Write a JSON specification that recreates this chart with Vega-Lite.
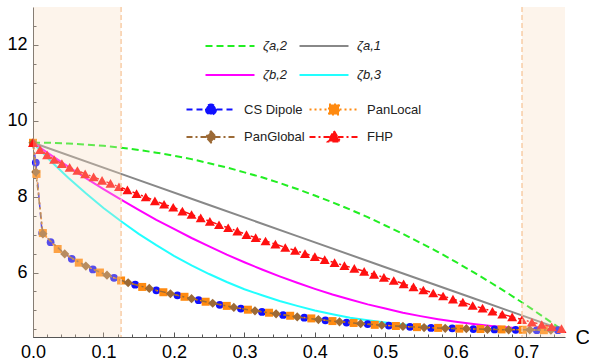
{
  "$schema": "https://vega.github.io/schema/vega-lite/v6.json",
  "width": 532,
  "height": 330,
  "autosize": {"type": "none"},
  "padding": {"left": 33, "top": 7, "right": 24, "bottom": 24},
  "background": "white",
  "config": {
    "view": {"stroke": null},
    "font": "Liberation Sans",
    "axis": {"grid": false, "domainColor": "#555555", "tickColor": "#555555", "labelColor": "#000000", "labelFont": "Liberation Sans", "labelFontSize": 18, "titleFont": "Liberation Sans"}
  },
  "datasets": {
    "curves": [
      {"series": "ζa,2", "C": 0, "v": 9.42}, {"series": "ζa,2", "C": 0.025, "v": 9.42}, {"series": "ζa,2", "C": 0.05, "v": 9.40}, {"series": "ζa,2", "C": 0.075, "v": 9.37}, {"series": "ζa,2", "C": 0.1, "v": 9.34}, {"series": "ζa,2", "C": 0.125, "v": 9.29}, {"series": "ζa,2", "C": 0.15, "v": 9.23}, {"series": "ζa,2", "C": 0.175, "v": 9.16}, {"series": "ζa,2", "C": 0.2, "v": 9.08}, {"series": "ζa,2", "C": 0.225, "v": 8.99}, {"series": "ζa,2", "C": 0.25, "v": 8.88}, {"series": "ζa,2", "C": 0.275, "v": 8.77}, {"series": "ζa,2", "C": 0.3, "v": 8.64}, {"series": "ζa,2", "C": 0.325, "v": 8.51}, {"series": "ζa,2", "C": 0.35, "v": 8.36}, {"series": "ζa,2", "C": 0.375, "v": 8.20}, {"series": "ζa,2", "C": 0.4, "v": 8.03}, {"series": "ζa,2", "C": 0.425, "v": 7.85}, {"series": "ζa,2", "C": 0.45, "v": 7.66}, {"series": "ζa,2", "C": 0.475, "v": 7.46}, {"series": "ζa,2", "C": 0.5, "v": 7.24}, {"series": "ζa,2", "C": 0.525, "v": 7.02}, {"series": "ζa,2", "C": 0.55, "v": 6.78}, {"series": "ζa,2", "C": 0.575, "v": 6.54}, {"series": "ζa,2", "C": 0.6, "v": 6.28}, {"series": "ζa,2", "C": 0.625, "v": 6.01}, {"series": "ζa,2", "C": 0.65, "v": 5.73}, {"series": "ζa,2", "C": 0.675, "v": 5.44}, {"series": "ζa,2", "C": 0.7, "v": 5.14}, {"series": "ζa,2", "C": 0.725, "v": 4.82}, {"series": "ζa,2", "C": 0.75, "v": 4.50},
      {"series": "ζa,1", "C": 0, "v": 9.42}, {"series": "ζa,1", "C": 0.125, "v": 8.60}, {"series": "ζa,1", "C": 0.25, "v": 7.78}, {"series": "ζa,1", "C": 0.375, "v": 6.96}, {"series": "ζa,1", "C": 0.5, "v": 6.14}, {"series": "ζa,1", "C": 0.625, "v": 5.32}, {"series": "ζa,1", "C": 0.75, "v": 4.50},
      {"series": "ζb,2", "C": 0, "v": 9.42}, {"series": "ζb,2", "C": 0.025, "v": 9.10}, {"series": "ζb,2", "C": 0.05, "v": 8.79}, {"series": "ζb,2", "C": 0.075, "v": 8.49}, {"series": "ζb,2", "C": 0.1, "v": 8.20}, {"series": "ζb,2", "C": 0.125, "v": 7.92}, {"series": "ζb,2", "C": 0.15, "v": 7.65}, {"series": "ζb,2", "C": 0.175, "v": 7.39}, {"series": "ζb,2", "C": 0.2, "v": 7.15}, {"series": "ζb,2", "C": 0.225, "v": 6.91}, {"series": "ζb,2", "C": 0.25, "v": 6.69}, {"series": "ζb,2", "C": 0.275, "v": 6.47}, {"series": "ζb,2", "C": 0.3, "v": 6.27}, {"series": "ζb,2", "C": 0.325, "v": 6.08}, {"series": "ζb,2", "C": 0.35, "v": 5.90}, {"series": "ζb,2", "C": 0.375, "v": 5.73}, {"series": "ζb,2", "C": 0.4, "v": 5.57}, {"series": "ζb,2", "C": 0.425, "v": 5.42}, {"series": "ζb,2", "C": 0.45, "v": 5.29}, {"series": "ζb,2", "C": 0.475, "v": 5.16}, {"series": "ζb,2", "C": 0.5, "v": 5.05}, {"series": "ζb,2", "C": 0.525, "v": 4.94}, {"series": "ζb,2", "C": 0.55, "v": 4.85}, {"series": "ζb,2", "C": 0.575, "v": 4.77}, {"series": "ζb,2", "C": 0.6, "v": 4.70}, {"series": "ζb,2", "C": 0.625, "v": 4.64}, {"series": "ζb,2", "C": 0.65, "v": 4.59}, {"series": "ζb,2", "C": 0.675, "v": 4.55}, {"series": "ζb,2", "C": 0.7, "v": 4.52}, {"series": "ζb,2", "C": 0.725, "v": 4.51}, {"series": "ζb,2", "C": 0.75, "v": 4.50},
      {"series": "ζb,3", "C": 0, "v": 9.42}, {"series": "ζb,3", "C": 0.025, "v": 8.94}, {"series": "ζb,3", "C": 0.05, "v": 8.50}, {"series": "ζb,3", "C": 0.075, "v": 8.09}, {"series": "ζb,3", "C": 0.1, "v": 7.70}, {"series": "ζb,3", "C": 0.125, "v": 7.35}, {"series": "ζb,3", "C": 0.15, "v": 7.02}, {"series": "ζb,3", "C": 0.175, "v": 6.72}, {"series": "ζb,3", "C": 0.2, "v": 6.44}, {"series": "ζb,3", "C": 0.225, "v": 6.19}, {"series": "ζb,3", "C": 0.25, "v": 5.96}, {"series": "ζb,3", "C": 0.275, "v": 5.75}, {"series": "ζb,3", "C": 0.3, "v": 5.56}, {"series": "ζb,3", "C": 0.325, "v": 5.40}, {"series": "ζb,3", "C": 0.35, "v": 5.25}, {"series": "ζb,3", "C": 0.375, "v": 5.12}, {"series": "ζb,3", "C": 0.4, "v": 5.00}, {"series": "ζb,3", "C": 0.425, "v": 4.90}, {"series": "ζb,3", "C": 0.45, "v": 4.81}, {"series": "ζb,3", "C": 0.475, "v": 4.74}, {"series": "ζb,3", "C": 0.5, "v": 4.68}, {"series": "ζb,3", "C": 0.525, "v": 4.63}, {"series": "ζb,3", "C": 0.55, "v": 4.59}, {"series": "ζb,3", "C": 0.575, "v": 4.56}, {"series": "ζb,3", "C": 0.6, "v": 4.54}, {"series": "ζb,3", "C": 0.625, "v": 4.52}, {"series": "ζb,3", "C": 0.65, "v": 4.51}, {"series": "ζb,3", "C": 0.675, "v": 4.50}, {"series": "ζb,3", "C": 0.7, "v": 4.50}, {"series": "ζb,3", "C": 0.725, "v": 4.50}, {"series": "ζb,3", "C": 0.75, "v": 4.50}
    ],
    "methods": [
      {"series": "CS Dipole", "C": 0, "v": 9.42}, {"series": "CS Dipole", "C": 0.004, "v": 8.9}, {"series": "CS Dipole", "C": 0.013, "v": 7.04}, {"series": "CS Dipole", "C": 0.025, "v": 6.80}, {"series": "CS Dipole", "C": 0.055, "v": 6.36}, {"series": "CS Dipole", "C": 0.085, "v": 6.08}, {"series": "CS Dipole", "C": 0.115, "v": 5.86}, {"series": "CS Dipole", "C": 0.145, "v": 5.68}, {"series": "CS Dipole", "C": 0.175, "v": 5.53}, {"series": "CS Dipole", "C": 0.205, "v": 5.40}, {"series": "CS Dipole", "C": 0.235, "v": 5.27}, {"series": "CS Dipole", "C": 0.265, "v": 5.15}, {"series": "CS Dipole", "C": 0.295, "v": 5.05}, {"series": "CS Dipole", "C": 0.325, "v": 4.96}, {"series": "CS Dipole", "C": 0.355, "v": 4.88}, {"series": "CS Dipole", "C": 0.385, "v": 4.81}, {"series": "CS Dipole", "C": 0.415, "v": 4.74}, {"series": "CS Dipole", "C": 0.445, "v": 4.68}, {"series": "CS Dipole", "C": 0.475, "v": 4.64}, {"series": "CS Dipole", "C": 0.505, "v": 4.60}, {"series": "CS Dipole", "C": 0.535, "v": 4.57}, {"series": "CS Dipole", "C": 0.565, "v": 4.54}, {"series": "CS Dipole", "C": 0.595, "v": 4.53}, {"series": "CS Dipole", "C": 0.625, "v": 4.51}, {"series": "CS Dipole", "C": 0.655, "v": 4.50}, {"series": "CS Dipole", "C": 0.685, "v": 4.49}, {"series": "CS Dipole", "C": 0.715, "v": 4.48}, {"series": "CS Dipole", "C": 0.745, "v": 4.48},
      {"series": "PanLocal", "C": 0, "v": 9.42}, {"series": "PanLocal", "C": 0.005, "v": 8.6}, {"series": "PanLocal", "C": 0.014, "v": 7.04}, {"series": "PanLocal", "C": 0.035, "v": 6.62}, {"series": "PanLocal", "C": 0.065, "v": 6.26}, {"series": "PanLocal", "C": 0.095, "v": 6.00}, {"series": "PanLocal", "C": 0.125, "v": 5.79}, {"series": "PanLocal", "C": 0.155, "v": 5.62}, {"series": "PanLocal", "C": 0.185, "v": 5.48}, {"series": "PanLocal", "C": 0.215, "v": 5.36}, {"series": "PanLocal", "C": 0.245, "v": 5.23}, {"series": "PanLocal", "C": 0.275, "v": 5.12}, {"series": "PanLocal", "C": 0.305, "v": 5.02}, {"series": "PanLocal", "C": 0.335, "v": 4.94}, {"series": "PanLocal", "C": 0.365, "v": 4.86}, {"series": "PanLocal", "C": 0.395, "v": 4.79}, {"series": "PanLocal", "C": 0.425, "v": 4.72}, {"series": "PanLocal", "C": 0.455, "v": 4.67}, {"series": "PanLocal", "C": 0.485, "v": 4.62}, {"series": "PanLocal", "C": 0.515, "v": 4.59}, {"series": "PanLocal", "C": 0.545, "v": 4.56}, {"series": "PanLocal", "C": 0.575, "v": 4.54}, {"series": "PanLocal", "C": 0.605, "v": 4.52}, {"series": "PanLocal", "C": 0.635, "v": 4.51}, {"series": "PanLocal", "C": 0.665, "v": 4.50}, {"series": "PanLocal", "C": 0.695, "v": 4.49}, {"series": "PanLocal", "C": 0.725, "v": 4.48},
      {"series": "PanGlobal", "C": 0, "v": 9.42}, {"series": "PanGlobal", "C": 0.004, "v": 8.65}, {"series": "PanGlobal", "C": 0.014, "v": 7.02}, {"series": "PanGlobal", "C": 0.045, "v": 6.49}, {"series": "PanGlobal", "C": 0.075, "v": 6.17}, {"series": "PanGlobal", "C": 0.105, "v": 5.93}, {"series": "PanGlobal", "C": 0.135, "v": 5.73}, {"series": "PanGlobal", "C": 0.165, "v": 5.58}, {"series": "PanGlobal", "C": 0.195, "v": 5.44}, {"series": "PanGlobal", "C": 0.225, "v": 5.31}, {"series": "PanGlobal", "C": 0.255, "v": 5.19}, {"series": "PanGlobal", "C": 0.285, "v": 5.08}, {"series": "PanGlobal", "C": 0.315, "v": 4.99}, {"series": "PanGlobal", "C": 0.345, "v": 4.91}, {"series": "PanGlobal", "C": 0.375, "v": 4.83}, {"series": "PanGlobal", "C": 0.405, "v": 4.76}, {"series": "PanGlobal", "C": 0.435, "v": 4.70}, {"series": "PanGlobal", "C": 0.465, "v": 4.65}, {"series": "PanGlobal", "C": 0.495, "v": 4.61}, {"series": "PanGlobal", "C": 0.525, "v": 4.58}, {"series": "PanGlobal", "C": 0.555, "v": 4.55}, {"series": "PanGlobal", "C": 0.585, "v": 4.53}, {"series": "PanGlobal", "C": 0.615, "v": 4.52}, {"series": "PanGlobal", "C": 0.645, "v": 4.50}, {"series": "PanGlobal", "C": 0.675, "v": 4.49}, {"series": "PanGlobal", "C": 0.705, "v": 4.49}, {"series": "PanGlobal", "C": 0.735, "v": 4.48},
      {"series": "FHP", "C": 0, "v": 9.42}, {"series": "FHP", "C": 0.010, "v": 9.24}, {"series": "FHP", "C": 0.020, "v": 9.10}, {"series": "FHP", "C": 0.030, "v": 8.98}, {"series": "FHP", "C": 0.041, "v": 8.87}, {"series": "FHP", "C": 0.052, "v": 8.77}, {"series": "FHP", "C": 0.063, "v": 8.69}, {"series": "FHP", "C": 0.074, "v": 8.60}, {"series": "FHP", "C": 0.086, "v": 8.52}, {"series": "FHP", "C": 0.098, "v": 8.43}, {"series": "FHP", "C": 0.110, "v": 8.35}, {"series": "FHP", "C": 0.122, "v": 8.26}, {"series": "FHP", "C": 0.134, "v": 8.18}, {"series": "FHP", "C": 0.147, "v": 8.08}, {"series": "FHP", "C": 0.160, "v": 7.99}, {"series": "FHP", "C": 0.173, "v": 7.89}, {"series": "FHP", "C": 0.186, "v": 7.80}, {"series": "FHP", "C": 0.199, "v": 7.72}, {"series": "FHP", "C": 0.212, "v": 7.62}, {"series": "FHP", "C": 0.225, "v": 7.53}, {"series": "FHP", "C": 0.238, "v": 7.44}, {"series": "FHP", "C": 0.251, "v": 7.35}, {"series": "FHP", "C": 0.264, "v": 7.26}, {"series": "FHP", "C": 0.277, "v": 7.18}, {"series": "FHP", "C": 0.290, "v": 7.09}, {"series": "FHP", "C": 0.303, "v": 7.00}, {"series": "FHP", "C": 0.316, "v": 6.92}, {"series": "FHP", "C": 0.330, "v": 6.83}, {"series": "FHP", "C": 0.344, "v": 6.75}, {"series": "FHP", "C": 0.358, "v": 6.66}, {"series": "FHP", "C": 0.372, "v": 6.58}, {"series": "FHP", "C": 0.386, "v": 6.50}, {"series": "FHP", "C": 0.400, "v": 6.42}, {"series": "FHP", "C": 0.414, "v": 6.34}, {"series": "FHP", "C": 0.428, "v": 6.26}, {"series": "FHP", "C": 0.442, "v": 6.18}, {"series": "FHP", "C": 0.456, "v": 6.11}, {"series": "FHP", "C": 0.470, "v": 6.03}, {"series": "FHP", "C": 0.484, "v": 5.95}, {"series": "FHP", "C": 0.498, "v": 5.87}, {"series": "FHP", "C": 0.512, "v": 5.79}, {"series": "FHP", "C": 0.526, "v": 5.70}, {"series": "FHP", "C": 0.540, "v": 5.62}, {"series": "FHP", "C": 0.554, "v": 5.54}, {"series": "FHP", "C": 0.568, "v": 5.46}, {"series": "FHP", "C": 0.582, "v": 5.38}, {"series": "FHP", "C": 0.596, "v": 5.30}, {"series": "FHP", "C": 0.610, "v": 5.22}, {"series": "FHP", "C": 0.624, "v": 5.13}, {"series": "FHP", "C": 0.638, "v": 5.06}, {"series": "FHP", "C": 0.652, "v": 4.98}, {"series": "FHP", "C": 0.666, "v": 4.90}, {"series": "FHP", "C": 0.680, "v": 4.83}, {"series": "FHP", "C": 0.694, "v": 4.76}, {"series": "FHP", "C": 0.708, "v": 4.69}, {"series": "FHP", "C": 0.722, "v": 4.63}, {"series": "FHP", "C": 0.736, "v": 4.57}, {"series": "FHP", "C": 0.750, "v": 4.52}
    ],
    "regions": [{"a": 0, "b": 0.125}, {"a": 0.694, "b": 0.755}],
    "bounds": [{"x": 0.125}, {"x": 0.694}]
  },
  "resolve": {"axis": {"x": "independent", "y": "independent"}},
  "layer": [
    {
      "encoding": {
        "x": {"field": "C", "type": "quantitative", "scale": {"domain": [0, 0.755], "nice": false, "zero": false},
              "axis": {"orient": "bottom", "values": [0.02,0.04,0.06,0.08,0.12,0.14,0.16,0.18,0.22,0.24,0.26,0.28,0.32,0.34,0.36,0.38,0.42,0.44,0.46,0.48,0.52,0.54,0.56,0.58,0.62,0.64,0.66,0.68,0.72,0.74], "labels": false, "domain": false, "tickSize": -3, "title": null}},
        "y": {"field": "v", "type": "quantitative", "scale": {"domain": [4.3, 13], "nice": false, "zero": false},
              "axis": {"orient": "left", "values": [4.5,5,5.5,6.5,7,7.5,8.5,9,9.5,10.5,11,11.5,12.5], "labels": false, "domain": false, "tickSize": -3, "title": null}}
      },
      "resolve": {"scale": {"shape": "independent", "stroke": "independent", "strokeDash": "independent", "fill": "independent"}},
      "layer": [
        {
          "data": {"name": "curves"},
          "mark": {"type": "point", "opacity": 0},
          "encoding": {
            "shape": {"field": "series", "type": "nominal",
              "scale": {"domain": ["ζa,2", "ζa,1", "ζb,2", "ζb,3"], "range": ["M-2.45,0H2.45", "M-2.45,0H2.45", "M-2.45,0H2.45", "M-2.45,0H2.45"]},
              "legend": {"orient": "none", "legendX": 186, "legendY": 28, "direction": "horizontal", "columns": 2, "title": null, "symbolSize": 400, "symbolStrokeWidth": 2, "symbolFillColor": "transparent", "symbolStrokeColor": "#000000", "labelFont": "Liberation Sans", "labelFontSize": 13, "labelFontStyle": "italic", "labelColor": "#222222", "labelOffset": 22, "columnPadding": 7, "rowPadding": 11, "padding": 0, "gridAlign": "all"}},
            "stroke": {"field": "series", "type": "nominal",
              "scale": {"domain": ["ζa,2", "ζa,1", "ζb,2", "ζb,3"], "range": ["#22EE22", "#888888", "#FF00FF", "#22FFFF"]},
              "legend": {"orient": "none", "legendX": 186, "legendY": 28, "direction": "horizontal", "columns": 2, "title": null, "symbolSize": 400, "symbolStrokeWidth": 2, "symbolFillColor": "transparent", "symbolStrokeColor": "#000000", "labelFont": "Liberation Sans", "labelFontSize": 13, "labelFontStyle": "italic", "labelColor": "#222222", "labelOffset": 22, "columnPadding": 7, "rowPadding": 11, "padding": 0, "gridAlign": "all"}},
            "strokeDash": {"field": "series", "type": "nominal",
              "scale": {"domain": ["ζa,2", "ζa,1", "ζb,2", "ζb,3"], "range": [[7, 4], [1, 0], [1, 0], [1, 0]]},
              "legend": {"orient": "none", "legendX": 186, "legendY": 28, "direction": "horizontal", "columns": 2, "title": null, "symbolSize": 400, "symbolStrokeWidth": 2, "symbolFillColor": "transparent", "symbolStrokeColor": "#000000", "labelFont": "Liberation Sans", "labelFontSize": 13, "labelFontStyle": "italic", "labelColor": "#222222", "labelOffset": 22, "columnPadding": 7, "rowPadding": 11, "padding": 0, "gridAlign": "all"}}
          }
        },
        {
          "data": {"name": "methods"},
          "mark": {"type": "point", "filled": true, "opacity": 0},
          "encoding": {
            "shape": {"field": "series", "type": "nominal",
              "scale": {"domain": ["CS Dipole", "PanLocal", "PanGlobal", "FHP"], "range": ["M-2.45,0H2.45M0.5,0A0.5,0.5 0 1,1 -0.5,0A0.5,0.5 0 1,1 0.5,0Z", "M-2.45,0H2.45M-0.5,-0.5H0.5V0.5H-0.5Z", "M-2.45,0H2.45M0,-0.55L0.5,0L0,0.55L-0.5,0Z", "M-2.45,0H2.45M0,-0.6L0.62,0.45L-0.62,0.45Z"]},
              "legend": {"orient": "none", "legendX": 167, "legendY": 91, "direction": "horizontal", "columns": 2, "title": null, "symbolSize": 400, "symbolStrokeWidth": 2, "symbolFillColor": "#000000", "symbolStrokeColor": "#000000", "labelFont": "Liberation Sans", "labelFontSize": 13, "labelColor": "#222222", "labelOffset": 22, "columnPadding": 0, "rowPadding": 7, "padding": 0, "gridAlign": "all"}},
            "stroke": {"field": "series", "type": "nominal",
              "scale": {"domain": ["CS Dipole", "PanLocal", "PanGlobal", "FHP"], "range": ["#1010FF", "#FF8A10", "#9C6A36", "#FF1010"]},
              "legend": {"orient": "none", "legendX": 167, "legendY": 91, "direction": "horizontal", "columns": 2, "title": null, "symbolSize": 400, "symbolStrokeWidth": 2, "symbolFillColor": "#000000", "symbolStrokeColor": "#000000", "labelFont": "Liberation Sans", "labelFontSize": 13, "labelColor": "#222222", "labelOffset": 22, "columnPadding": 0, "rowPadding": 7, "padding": 0, "gridAlign": "all"}},
            "fill": {"field": "series", "type": "nominal",
              "scale": {"domain": ["CS Dipole", "PanLocal", "PanGlobal", "FHP"], "range": ["#1010FF", "#FF8A10", "#9C6A36", "#FF1010"]},
              "legend": {"orient": "none", "legendX": 167, "legendY": 91, "direction": "horizontal", "columns": 2, "title": null, "symbolSize": 400, "symbolStrokeWidth": 2, "symbolFillColor": "#000000", "symbolStrokeColor": "#000000", "labelFont": "Liberation Sans", "labelFontSize": 13, "labelColor": "#222222", "labelOffset": 22, "columnPadding": 0, "rowPadding": 7, "padding": 0, "gridAlign": "all"}},
            "strokeDash": {"field": "series", "type": "nominal",
              "scale": {"domain": ["CS Dipole", "PanLocal", "PanGlobal", "FHP"], "range": [[6, 4], [2, 3], [6, 3, 2, 3], [6, 3, 2, 3]]},
              "legend": {"orient": "none", "legendX": 167, "legendY": 91, "direction": "horizontal", "columns": 2, "title": null, "symbolSize": 400, "symbolStrokeWidth": 2, "symbolFillColor": "#000000", "symbolStrokeColor": "#000000", "labelFont": "Liberation Sans", "labelFontSize": 13, "labelColor": "#222222", "labelOffset": 22, "columnPadding": 0, "rowPadding": 7, "padding": 0, "gridAlign": "all"}}
          }
        }
      ]
    },
    {
      "encoding": {
        "x": {"field": "C", "type": "quantitative", "scale": {"domain": [0, 0.755], "nice": false, "zero": false},
              "axis": {"orient": "bottom", "values": [0, 0.1, 0.2, 0.3, 0.4, 0.5, 0.6, 0.7], "format": ".1f", "labelFlush": false, "tickSize": -5, "labelPadding": 11, "title": "C", "titleX": 542, "titleY": 0, "titleAlign": "left", "titleBaseline": "middle", "titleAngle": 0, "titleFontSize": 20, "titleFontWeight": "normal", "titleColor": "#000000"}},
        "y": {"field": "v", "type": "quantitative", "scale": {"domain": [4.3, 13], "nice": false, "zero": false},
              "axis": {"orient": "left", "values": [6, 8, 10, 12], "labelFlush": false, "tickSize": -5, "labelPadding": 11, "title": null}}
      },
      "layer": [
        {"data": {"name": "curves"}, "transform": [{"filter": "datum.series === 'ζa,2'"}], "mark": {"type": "line", "color": "#22EE22", "strokeDash": [7, 4], "strokeWidth": 2}},
        {"data": {"name": "curves"}, "transform": [{"filter": "datum.series === 'ζa,1'"}], "mark": {"type": "line", "color": "#888888", "strokeWidth": 2}},
        {"data": {"name": "curves"}, "transform": [{"filter": "datum.series === 'ζb,2'"}], "mark": {"type": "line", "color": "#FF00FF", "strokeWidth": 2}},
        {"data": {"name": "curves"}, "transform": [{"filter": "datum.series === 'ζb,3'"}], "mark": {"type": "line", "color": "#22FFFF", "strokeWidth": 2}},
        {"data": {"name": "methods"}, "transform": [{"filter": "datum.series === 'CS Dipole'"}], "mark": {"type": "line", "color": "#1010FF", "strokeDash": [6, 4], "strokeWidth": 1.5}},
        {"data": {"name": "methods"}, "transform": [{"filter": "datum.series === 'CS Dipole'"}], "mark": {"type": "point", "shape": "circle", "filled": true, "color": "#1010FF", "size": 60, "opacity": 1}},
        {"data": {"name": "methods"}, "transform": [{"filter": "datum.series === 'PanLocal'"}], "mark": {"type": "line", "color": "#FF8A10", "strokeDash": [2, 3], "strokeWidth": 1.5}},
        {"data": {"name": "methods"}, "transform": [{"filter": "datum.series === 'PanLocal'"}], "mark": {"type": "point", "shape": "square", "filled": true, "color": "#FF8A10", "size": 64, "opacity": 1}},
        {"data": {"name": "methods"}, "transform": [{"filter": "datum.series === 'PanGlobal'"}], "mark": {"type": "line", "color": "#9C6A36", "strokeDash": [6, 3, 2, 3], "strokeWidth": 1.5}},
        {"data": {"name": "methods"}, "transform": [{"filter": "datum.series === 'PanGlobal'"}], "mark": {"type": "point", "shape": "diamond", "filled": true, "color": "#9C6A36", "size": 85, "opacity": 1}},
        {"data": {"name": "methods"}, "transform": [{"filter": "datum.series === 'FHP'"}], "mark": {"type": "line", "color": "#FF1010", "strokeDash": [6, 3, 2, 3], "strokeWidth": 1.5}},
        {"data": {"name": "methods"}, "transform": [{"filter": "datum.series === 'FHP'"}], "mark": {"type": "point", "shape": "triangle-up", "filled": true, "color": "#FF1010", "size": 100, "opacity": 1}}
      ]
    },
    {
      "data": {"name": "regions"},
      "mark": {"type": "rect", "color": "#F9D9BD", "opacity": 0.3},
      "encoding": {
        "x": {"field": "a", "type": "quantitative", "scale": {"domain": [0, 0.755], "nice": false, "zero": false}, "axis": null},
        "x2": {"field": "b"}
      }
    },
    {
      "data": {"name": "bounds"},
      "mark": {"type": "rule", "color": "#F8CDA6", "strokeDash": [5, 3], "strokeWidth": 1.5},
      "encoding": {
        "x": {"field": "x", "type": "quantitative", "scale": {"domain": [0, 0.755], "nice": false, "zero": false}, "axis": null}
      }
    }
  ]
}
